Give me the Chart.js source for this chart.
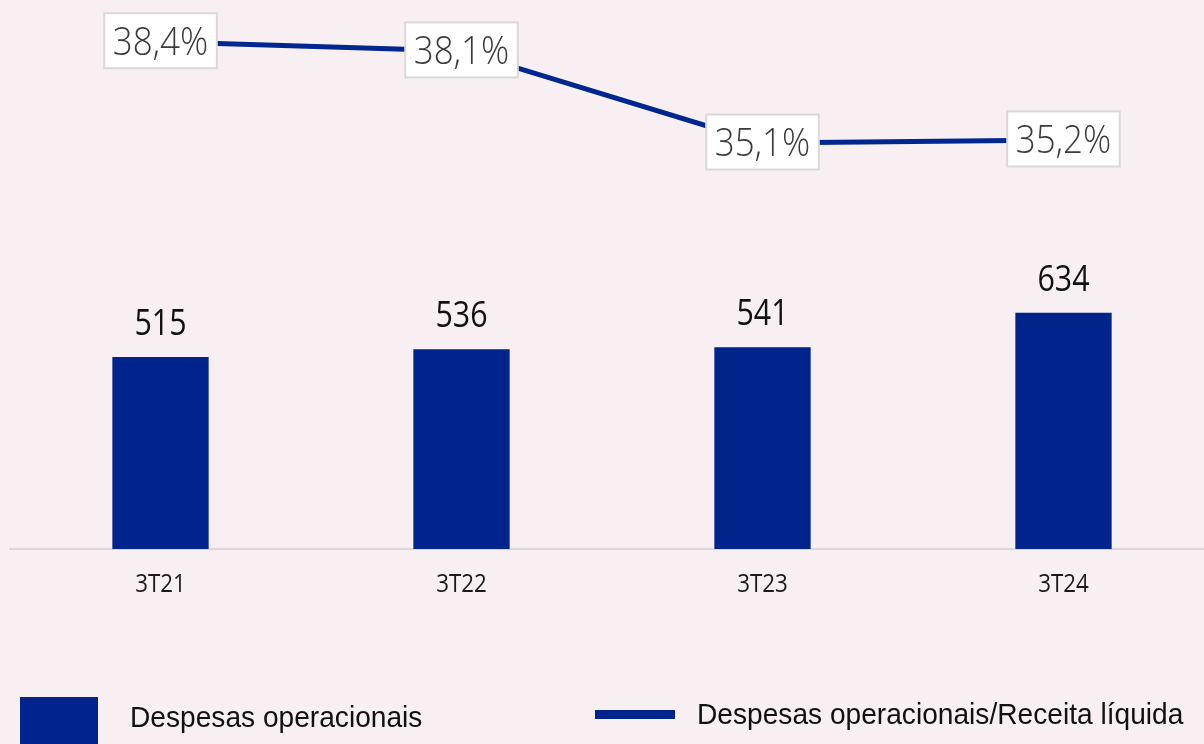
<!DOCTYPE html>
<html>
<head>
<meta charset="utf-8">
<script src="https://cdn.jsdelivr.net/npm/chart.js@4.4.1/dist/chart.umd.min.js"></script>
<style>
  html, body { margin:0; padding:0; background:#f7eff1; overflow:hidden; }
  #wrap { position:relative; width:1204px; height:744px; overflow:hidden; background:#f7eff1; }
  #c { position:absolute; left:0; top:0; }
  .leg { position:absolute; font-family:"Liberation Sans", Arial, sans-serif; font-size:29px; color:#111; white-space:nowrap; transform-origin:left center; transform:scaleX(0.97); line-height:1; }
</style>
</head>
<body>
<div id="wrap">
  <canvas id="c" width="1214" height="744"></canvas>
  <div style="position:absolute;left:20px;top:697px;width:78px;height:60px;background:#00238c;"></div>
  <div class="leg" style="left:130px;top:703px;">Despesas operacionais</div>
  <div style="position:absolute;left:595px;top:710px;width:80px;height:9px;background:#00238c;"></div>
  <div class="leg" style="left:697px;top:700px;">Despesas operacionais/Receita líquida</div>
</div>
<script>
const categories = ['3T21', '3T22', '3T23', '3T24'];
const despesasOperacionais = [515, 536, 541, 634];
const despesasReceita = [38.4, 38.1, 35.1, 35.2];
const despesasReceitaLabels = ['38,4%', '38,1%', '35,1%', '35,2%'];
const barLabels = ['515', '536', '541', '634'];

function drawSquashed(ctx, text, x, y, font, color, sx) {
  ctx.save();
  ctx.font = font;
  ctx.fillStyle = color;
  ctx.textAlign = 'center';
  ctx.textBaseline = 'alphabetic';
  ctx.translate(x, y);
  ctx.scale(sx, 1);
  ctx.fillText(text, 0, 0);
  ctx.restore();
}

const labelsPlugin = {
  id: 'labelsPlugin',
  afterDatasetsDraw(chart) {
    const ctx = chart.ctx;
    const barMeta = chart.getDatasetMeta(1);
    barMeta.data.forEach((bar, i) => {
      drawSquashed(ctx, barLabels[i], bar.x, bar.y - 22, '400 37px "Open Sans"', '#111111', 0.82);
    });
    const lineMeta = chart.getDatasetMeta(0);
    lineMeta.data.forEach((pt, i) => {
      const font = '300 38px "Open Sans"';
      ctx.save();
      ctx.font = font;
      const w = ctx.measureText(despesasReceitaLabels[i]).width * 0.92 + 17;
      const h = 55;
      ctx.fillStyle = '#ffffff';
      ctx.fillRect(pt.x - w / 2, pt.y - h / 2 - 1, w, h);
      ctx.strokeStyle = '#d9d9d9';
      ctx.lineWidth = 2;
      ctx.strokeRect(pt.x - w / 2, pt.y - h / 2 - 1, w, h);
      ctx.restore();
      drawSquashed(ctx, despesasReceitaLabels[i], pt.x, pt.y + 13, font, '#3a3a3a', 0.92);
    });
    const xs = chart.scales.x;
    categories.forEach((c, i) => {
      drawSquashed(ctx, c, xs.getPixelForValue(i), chart.chartArea.bottom + 43, '400 26px "Open Sans"', '#1a1a1a', 0.86);
    });
  }
};

new Chart(document.getElementById('c'), {
  data: {
    labels: categories,
    datasets: [
      {
        type: 'line',
        label: 'Despesas operacionais/Receita líquida',
        data: despesasReceita,
        yAxisID: 'y1',
        borderColor: '#00268f',
        borderWidth: 5,
        pointRadius: 0,
        tension: 0,
        order: 0
      },
      {
        type: 'bar',
        label: 'Despesas operacionais',
        data: despesasOperacionais,
        yAxisID: 'y',
        backgroundColor: '#00238c',
        barPercentage: 0.64,
        categoryPercentage: 0.5,
        order: 1
      }
    ]
  },
  options: {
    responsive: false,
    animation: false,
    layout: { padding: { top: 20, left: 10, right: 0, bottom: 0 } },
    plugins: { legend: { display: false }, tooltip: { enabled: false } },
    scales: {
      x: {
        display: true,
        grid: { display: false },
        border: { display: true, color: '#d9d9d9', width: 2 },
        ticks: { display: false },
        afterFit(scale) { scale.height = 195; }
      },
      y: { display: false, min: 0, max: 1419 },
      y1: { display: false, min: 21.875, max: 39.107, position: 'right' }
    }
  },
  plugins: [labelsPlugin]
});
</script>
</body>
</html>
